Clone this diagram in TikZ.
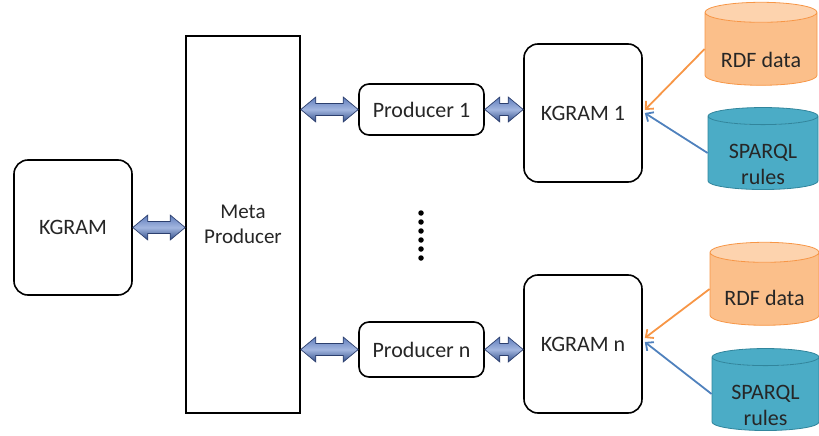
\documentclass[tikz,border=0pt]{standalone}
\usepackage{fontspec}
\setmainfont{Carlito}
\usetikzlibrary{shapes.geometric,calc,arrows.meta}
\definecolor{orfill}{HTML}{FBBF8A}
\definecolor{ortop}{HTML}{FDD3AE}
\definecolor{orline}{HTML}{F79646}
\definecolor{tlfill}{HTML}{4BACC6}
\definecolor{tltop}{HTML}{4BACC6}
\definecolor{tlline}{HTML}{31859C}
\definecolor{bluearr}{HTML}{4F81BD}
\definecolor{dblline}{HTML}{2C3F6E}
\definecolor{dbltop}{HTML}{5F7DBC}
\definecolor{dblmid}{HTML}{A3B6DF}
\definecolor{dblbot}{HTML}{324F8A}
\definecolor{txt}{HTML}{262626}
\tikzset{
  bigfont/.style={font=\fontsize{22}{27}\selectfont, text=txt},
  rbox/.style={draw=black, line width=1.6pt, rounded corners=14pt, fill=white, align=center, bigfont},
  pbox/.style={draw=black, line width=1.6pt, rounded corners=10pt, fill=white, bigfont},
  metabox/.style={draw=black, line width=1.6pt, fill=white, align=center, font=\fontsize{21}{25}\selectfont, text=txt},
  rdf/.style={cylinder, shape border rotate=90, aspect=0.25, draw=orline, line width=0.8pt,
    cylinder uses custom fill, cylinder body fill=orfill, cylinder end fill=ortop,
    minimum width=112pt, minimum height=83pt, inner sep=0pt, font=\fontsize{22}{26}\selectfont, text=txt},
  sparql/.style={cylinder, shape border rotate=90, aspect=0.25, draw=tlline, line width=0.8pt,
    cylinder uses custom fill, cylinder body fill=tlfill, cylinder end fill=tltop,
    minimum width=110pt, minimum height=82pt, inner sep=0pt, font=\fontsize{22}{26}\selectfont, text=txt},
  dblarrow/.style={draw=dblline, line width=0.7pt, top color=dbltop, bottom color=dblbot, middle color=dblmid},
  orarrow/.style={draw=orline, line width=1.8pt, -{Straight Barb[length=6pt,width=11pt]}},
  blarrow/.style={draw=bluearr, line width=1.8pt, -{Straight Barb[length=6pt,width=11pt]}},
  dotstyle/.style={circle, fill=black, inner sep=0pt, minimum size=5.5pt},
}
\newcommand{\dblarr}[2]{%
  \path[dblarrow] let \p1=#1, \p2=#2 in
    (\x1,\y1) -- (\x1+15pt,\y1+12.5pt) -- (\x1+15pt,\y1+6pt) -- (\x2-15pt,\y1+6pt) -- (\x2-15pt,\y1+12.5pt)
    -- (\x2,\y1) -- (\x2-15pt,\y1-12.5pt) -- (\x2-15pt,\y1-6pt) -- (\x1+15pt,\y1-6pt) -- (\x1+15pt,\y1-12.5pt) -- cycle;}
\newcommand{\sprtext}{\raisebox{-13pt}[\height][\depth]{\begin{tabular}{@{}c@{}}SPARQL\\[0pt]rules\end{tabular}}}
\newcommand{\rdftext}[1]{\raisebox{#1}[\height][\depth]{RDF data}}
\begin{document}
\begin{tikzpicture}[x=1pt,y=-1pt]
\useasboundingbox (0,0) rectangle (819,436);
\node[rbox, minimum width=118pt, minimum height=135pt] (kgram) at (73,227.5) {KGRAM};
\node[metabox, minimum width=114pt, minimum height=377pt] (meta) at (243,224.5) {Meta\\Producer};
\node[pbox, minimum width=125pt, minimum height=51pt] (p1) at (421.5,109.5) {Producer 1};
\node[pbox, minimum width=125pt, minimum height=55pt] (pn) at (421.5,349.5) {Producer n};
\node[rbox, minimum width=118pt, minimum height=138pt] (k1) at (583,113) {KGRAM 1};
\node[rbox, minimum width=118pt, minimum height=138pt] (kn) at (583,344) {KGRAM n};
\node[rdf] (rdf1) at (761,49) {\rdftext{-11pt}};
\node[sparql] (sp1) at (763,153) {\sprtext};
\node[rdf, minimum width=109pt] (rdfn) at (764.5,289) {\rdftext{-9pt}};
\node[sparql, minimum width=107pt] (spn) at (765.5,394) {\sprtext};
\foreach \i in {0,...,5} \node[dotstyle] (d\i) at (421,{213+\i*9}) {};
\dblarr{(kgram.east)}{(meta.west |- kgram.east)}
\dblarr{(meta.east |- p1.west)}{(p1.west)}
\dblarr{(p1.east)}{(k1.west |- p1.east)}
\dblarr{(meta.east |- pn.west)}{(pn.west)}
\dblarr{(pn.east)}{(kn.west |- pn.east)}
\draw[orarrow] (rdf1.west) -- ($(k1.east)+(2,-3)$);
\draw[blarrow] (sp1.west) -- ($(k1.east)+(2,0)$);
\draw[orarrow] (rdfn.west) -- ($(kn.east)+(2,-6)$);
\draw[blarrow] (spn.west) -- ($(kn.east)+(2,-2)$);
\end{tikzpicture}
\end{document}
